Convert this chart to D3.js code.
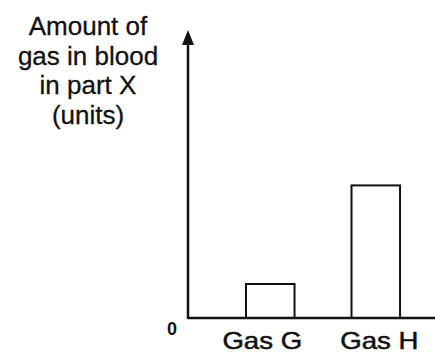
<!DOCTYPE html>
<html>
<head>
<meta charset="utf-8">
<script src="https://cdn.jsdelivr.net/npm/d3@7"></script>
<style>
  html, body { margin: 0; padding: 0; background: #fff; }
  svg { display: block; }
  text { font-family: "Liberation Sans", Arial, sans-serif; fill: #111; }
</style>
</head>
<body>
<svg id="chart" width="435" height="356"></svg>
<script>
// Gases measured in blood
const categories = ["Gas G", "Gas H"];
const amounts = [1, 3.9];
const yTitleLines = ["Amount of", "gas in blood", "in part X", "(units)"];
const yTickLabels = ["0"];

const svg = d3.select("#chart");
const ink = "#111";

const x0 = 188, baseY = 318;

const x = d3.scaleBand()
  .domain(categories)
  .range([193.25, 452.8])
  .paddingInner(0.54)
  .paddingOuter(0.5);

const y = d3.scaleLinear()
  .domain([0, 8])
  .range([baseY, 46]);

// bars (open rectangles)
svg.selectAll("rect.bar")
  .data(categories)
  .join("rect")
  .attr("class", "bar")
  .attr("x", d => x(d))
  .attr("width", x.bandwidth())
  .attr("y", (d, i) => y(amounts[i]))
  .attr("height", (d, i) => y(0) - y(amounts[i]))
  .attr("fill", "none")
  .attr("stroke", ink)
  .attr("stroke-width", 2);

// x axis line
svg.append("line")
  .attr("x1", x0).attr("x2", 435)
  .attr("y1", baseY).attr("y2", baseY)
  .attr("stroke", ink).attr("stroke-width", 2.5);

// y axis with arrowhead
svg.append("line")
  .attr("x1", x0).attr("x2", x0)
  .attr("y1", baseY + 1).attr("y2", 42)
  .attr("stroke", ink).attr("stroke-width", 2.5);
svg.append("path")
  .attr("d", `M${x0},30 L${x0 - 6},45 L${x0 + 6},45 Z`)
  .attr("fill", ink);

// zero label
svg.selectAll("text.tick")
  .data(yTickLabels)
  .join("text")
  .attr("class", "tick")
  .attr("x", 172)
  .attr("y", 335)
  .attr("text-anchor", "middle")
  .attr("font-size", 18)
  .attr("font-weight", "bold")
  .text(d => d);

// category labels, slightly widened type
const labelShift = [-8, 3.5];
svg.selectAll("text.cat")
  .data(categories)
  .join("text")
  .attr("class", "cat")
  .attr("transform", (d, i) => `translate(${x(d) + x.bandwidth() / 2 + labelShift[i]},349) scale(1.2,1)`)
  .attr("text-anchor", "middle")
  .attr("font-size", 23)
  .attr("stroke", ink)
  .attr("stroke-width", 0.5)
  .text(d => d);

// y axis title
svg.append("text")
  .attr("text-anchor", "middle")
  .attr("font-size", 26)
  .attr("stroke", ink)
  .attr("stroke-width", 0.3)
  .selectAll("tspan")
  .data(yTitleLines)
  .join("tspan")
  .attr("x", 88)
  .attr("y", (d, i) => 35 + i * 29.5)
  .text(d => d);
</script>
</body>
</html>
